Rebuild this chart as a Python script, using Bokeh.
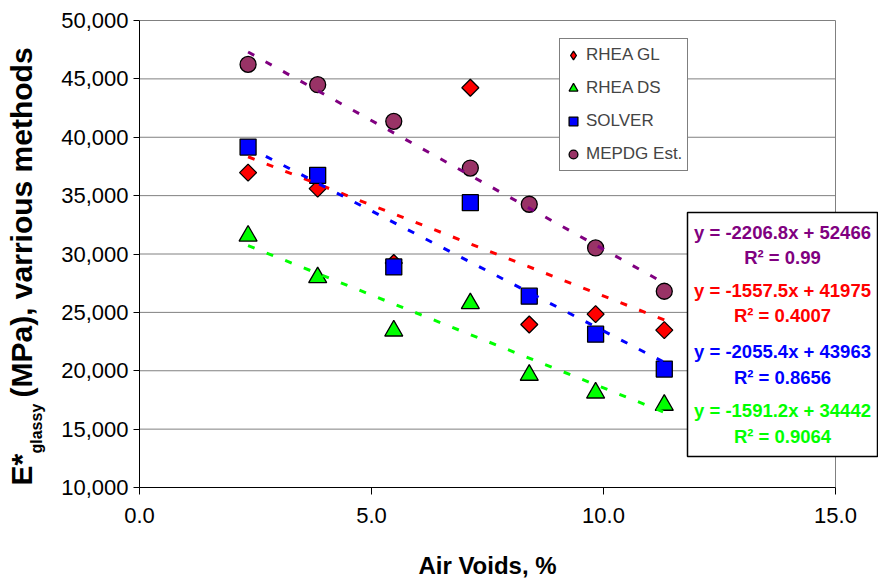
import numpy as np
from bokeh.plotting import figure
from bokeh.layouts import row, column
from bokeh.models import (Range1d, Label, Legend, LegendItem, NumeralTickFormatter,
                          FixedTicker)
from bokeh.embed import file_html
from bokeh.resources import INLINE

# ---------------- data ----------------
air_voids = [2.34, 3.84, 5.48, 7.13, 8.40, 9.83, 11.31]
rhea_gl = [36970, 35600, 29230, 44240, 23960, 24850, 23480]
rhea_ds = [31550, 27990, 23420, 25760, 19630, 18110, 17060]
solver = [39160, 36740, 28890, 34400, 26390, 23130, 20140]
mepdg = [46240, 44500, 41360, 37360, 34260, 30520, 26810]

series_names = ["RHEA GL", "RHEA DS", "SOLVER", "MEPDG Est."]
trend_slopes = [-1557.5, -1591.2, -2055.4, -2206.8]
trend_intercepts = [41975, 34442, 43963, 52466]
trend_r2 = ["0.4007", "0.9064", "0.8656", "0.99"]

x_ticks = [0, 5, 10, 15]
y_ticks = [10000, 15000, 20000, 25000, 30000, 35000, 40000, 45000, 50000]

x_title = "Air Voids, %"
y_title_parts = ["E*", "glassy", "(MPa), varrious methods"]

# ---------------- layout (canvas pixels) ----------------
W, H = 878, 581
YLAB_W = 46          # strip holding the y title
XLAB_H = 45          # strip holding the x title
LEFT, TOP, BOTTOM_PX = 139, 19, 487
PX_PER_X = (835 - 139) / 15.0
PX_PER_Y = 58.375 / 5000.0


def dx(px):
    return (px - LEFT) / PX_PER_X


def dy(py):
    return 50000 - (py - 20) / PX_PER_Y


FONT = "Liberation Sans"
colors_line = ["#FF0000", "#00FF00", "#0000FF", "#800080"]

main_w = W - YLAB_W
main_h = H - XLAB_H
p = figure(width=main_w, height=main_h, output_backend="svg", toolbar_location=None,
           x_range=Range1d(0, dx(W)), y_range=Range1d(dy(BOTTOM_PX), dy(TOP)),
           min_border_left=LEFT - YLAB_W, min_border_right=0, min_border_top=TOP,
           min_border_bottom=main_h - BOTTOM_PX)
p.outline_line_color = None
p.xgrid.visible = False
p.ygrid.visible = False

# axes
p.xaxis.ticker = FixedTicker(ticks=x_ticks)
p.xaxis.formatter = NumeralTickFormatter(format="0.0")
p.xaxis.bounds = (x_ticks[0], x_ticks[-1])
p.yaxis.ticker = FixedTicker(ticks=y_ticks)
p.yaxis.formatter = NumeralTickFormatter(format="0,0")
p.yaxis.bounds = (y_ticks[0], y_ticks[-1])
for ax in (p.xaxis, p.yaxis):
    ax.axis_line_color = "black"
    ax.axis_line_width = 1
    ax.major_tick_line_color = "black"
    ax.major_tick_in = 0
    ax.minor_tick_line_color = None
    ax.major_label_text_font = FONT
    ax.major_label_text_font_size = "22px"
    ax.major_label_text_color = "black"
p.xaxis.major_tick_out = 7
p.yaxis.major_tick_out = 6
p.xaxis.major_label_standoff = 13
p.yaxis.major_label_standoff = 5

# gridlines and plot-area border (only up to x = 15)
grid_y = y_ticks[1:]
p.segment(x0=[x_ticks[0]] * len(grid_y), x1=[x_ticks[-1]] * len(grid_y),
          y0=grid_y, y1=grid_y, line_color="#808080", line_width=1)
p.segment(x0=[x_ticks[-1]], x1=[x_ticks[-1]], y0=[y_ticks[0]], y1=[y_ticks[-1]],
          line_color="#808080", line_width=1)

# legend-only diamond glyph (hidden under the plotted diamonds; legend ignores marker angle)
r_gl_leg = p.scatter(air_voids, rhea_gl, marker="diamond", size=2,
                     fill_color="#FF0000", line_color="black", line_width=1.3)
# scatter series
r_gl = p.scatter(air_voids, rhea_gl, marker="square", angle=np.pi / 4, size=12,
                 fill_color="#FF0000", line_color="black", line_width=1.3)
r_ds = p.scatter(air_voids, rhea_ds, marker="triangle", size=18,
                 fill_color="#00FF00", line_color="black", line_width=1.3)
r_sv = p.scatter(air_voids, solver, marker="square", size=16,
                 fill_color="#0000FF", line_color="black", line_width=1.3)
r_mp = p.scatter(air_voids, mepdg, marker="circle", size=16,
                 fill_color="#993366", line_color="black", line_width=1.3)

# trend lines
xs = np.array([min(air_voids), max(air_voids)])
for m, b, c in zip(trend_slopes, trend_intercepts, colors_line):
    p.line(xs, m * xs + b, line_color=c, line_width=3, line_dash="7 13")

# legend
legend = Legend(items=[LegendItem(label=n, renderers=[r]) for n, r in
                       zip(series_names, [r_gl_leg, r_ds, r_sv, r_mp])],
                location=(559 - LEFT, BOTTOM_PX - 171),
                label_text_font=FONT, label_text_font_size="17px",
                glyph_width=22, glyph_height=28, label_height=28, label_width=99,
                label_standoff=2, spacing=5, padding=2, margin=0,
                border_line_color="black", border_line_width=1,
                background_fill_color="white", background_fill_alpha=1.0)
p.add_layout(legend)

# equation box
p.quad(left=[dx(687)], right=[dx(877)], top=[dy(212)], bottom=[dy(456)],
       fill_color="white", line_color="black", line_width=1.5)
eq_order = [3, 0, 2, 1]
eq_centers = [(232, 257), (290, 315), (351, 377), (410, 436)]
for idx, (y1, y2) in zip(eq_order, eq_centers):
    m, b, c = trend_slopes[idx], trend_intercepts[idx], colors_line[idx]
    t1 = f"y = {m:.1f}x + {b}"
    t2 = f"R\u00b2 = {trend_r2[idx]}"
    for t, yy in ((t1, y1), (t2, y2)):
        p.add_layout(Label(x=dx(782), y=dy(yy), text=t, text_align="center",
                           text_baseline="middle", text_font=FONT,
                           text_font_size="18.5px", text_font_style="bold",
                           text_color=c))

# ---------------- y title strip ----------------
# In a row, Bokeh aligns this strip's frame with the main frame (canvas rows TOP..BOTTOM_PX),
# so the range is set so that its data units equal canvas pixel rows.
yf = figure(width=YLAB_W, height=main_h, output_backend="svg", toolbar_location=None,
            x_range=Range1d(0, YLAB_W), y_range=Range1d(BOTTOM_PX, TOP),
            min_border=0, x_axis_location=None, y_axis_location=None)
yf.outline_line_color = None
yf.xgrid.visible = False
yf.ygrid.visible = False
y_parts_pos = [(21, 485, "30px"), (36, 453, "16px"), (21, 397, "30px")]
for t, (px, py, fs) in zip(y_title_parts, y_parts_pos):
    yf.add_layout(Label(x=px, y=py, text=t, angle=np.pi / 2, text_align="left",
                        text_baseline="middle", text_font=FONT,
                        text_font_size=fs, text_font_style="bold",
                        text_color="black"))

# ---------------- x title strip (full width) ----------------
xf = figure(width=W, height=XLAB_H, output_backend="svg", toolbar_location=None,
            x_range=Range1d(0, W), y_range=Range1d(H, H - XLAB_H),
            min_border=0, x_axis_location=None, y_axis_location=None)
xf.outline_line_color = None
xf.xgrid.visible = False
xf.ygrid.visible = False
xf.add_layout(Label(x=487, y=565, text=x_title, text_align="center",
                    text_baseline="middle", text_font=FONT,
                    text_font_size="24px", text_font_style="bold",
                    text_color="black"))

layout = column(row(yf, p, spacing=0), xf, spacing=0)
open("out.html", "w").write(file_html(layout, INLINE))
